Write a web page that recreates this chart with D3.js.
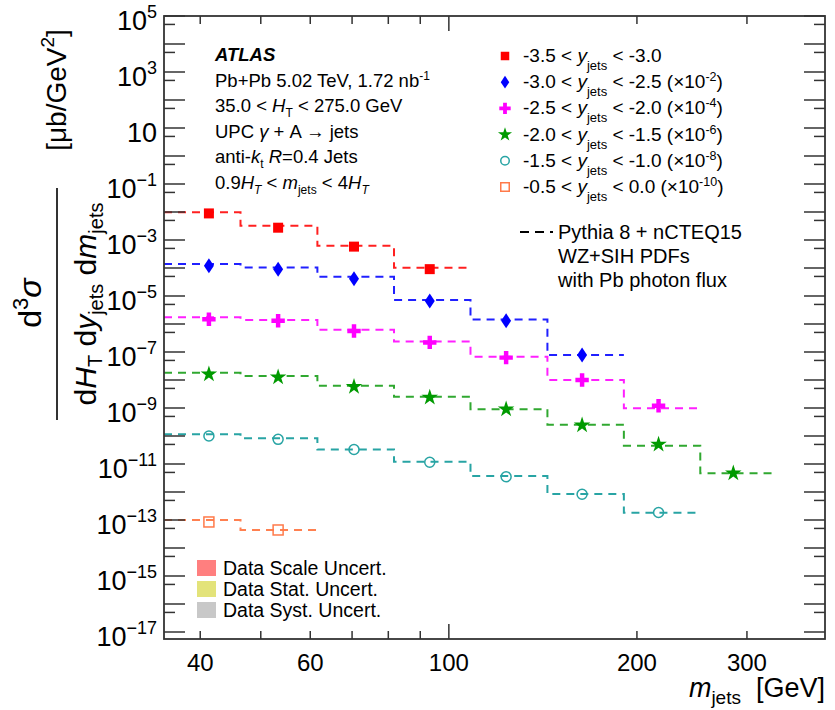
<!DOCTYPE html>
<meta charset="utf-8">
<style>
body { margin: 0; background: #fff; }
svg text { font-family: "Liberation Sans", Arial, Helvetica, sans-serif; fill: #000; }
</style>
<svg width="835" height="710"></svg>
<script src="https://d3js.org/d3.v7.min.js"></script>
<script>

// bins in m_jets [GeV]
var binEdges = [35, 46.4, 61.6, 81.7, 108.3, 143.8, 190.6, 252.6, 333];
var binCenters = [41.3, 53.3, 70.5, 93.2, 123.5, 163.4, 216.6, 285.3];

// rapidity slices
var yLow = ["-3.5", "-3.0", "-2.5", "-2.0", "-1.5", "-0.5"];
var yHigh = ["-3.0", "-2.5", "-2.0", "-1.5", "-1.0", "0.0"];
var scaleExp = ["", "-2", "-4", "-6", "-8", "-10"];

// data points (already multiplied by the scale factor)
var dataA = [8.9e-3, 2.75e-3, 5.8e-4, 9.1e-5];
var dataB = [1.2e-4, 9.1e-5, 4.1e-5, 6.6e-6, 1.3e-6, 7.8e-8];
var dataC = [1.48e-6, 1.3e-6, 5.6e-7, 2.2e-7, 6.3e-8, 1.0e-8, 1.2e-9];
var dataD = [1.6e-8, 1.26e-8, 5.8e-9, 2.4e-9, 9.1e-10, 2.45e-10, 5.0e-11, 4.7e-12];
var dataE = [1.0e-10, 7.6e-11, 3.3e-11, 1.15e-11, 3.5e-12, 8.3e-13, 1.86e-13];
var dataF = [8.5e-14, 4.4e-14];

// Pythia 8 + nCTEQ15 prediction
var theoA = [9.8e-3, 3.2e-3, 6.2e-4, 1.02e-4];
var theoB = [1.38e-4, 1.05e-4, 4.9e-5, 7.2e-6, 1.45e-6, 7.8e-8];
var theoC = [1.74e-6, 1.38e-6, 6.2e-7, 2.35e-7, 6.8e-8, 1.0e-8, 9.8e-10];
var theoD = [1.82e-8, 1.38e-8, 6.2e-9, 2.5e-9, 9.1e-10, 2.5e-10, 4.5e-11, 4.7e-12];
var theoE = [1.15e-10, 8.3e-11, 3.3e-11, 1.2e-11, 3.7e-12, 8.5e-13, 1.8e-13];
var theoF = [1.0e-13, 4.4e-14];

var xTickLabels = [40, 60, 100, 200, 300];

var allData = [dataA, dataB, dataC, dataD, dataE, dataF];
var allTheo = [theoA, theoB, theoC, theoD, theoE, theoF];
var markColor = ["#ff0000", "#0000ff", "#ff00ff", "#009a00", "#28a4a4", "#ff7a4a"];
var lineColor = ["#ff2020", "#2020ff", "#ff20ff", "#30a830", "#28a4a4", "#ff8050"];

var svg = d3.select("svg");
var fLeft = 164, fRight = 825, fTop = 16, fBottom = 639;

var x = d3.scaleLog().domain([35, 400]).range([fLeft, fRight]);
var y = d3.scaleLog().domain([Math.pow(10, -17.25), 1e5]).range([fBottom, fTop]);

// small helper for rich text (sub/superscripts, italics)
function rich(sel, parts) {
  var off = 0;
  parts.forEach(function(p) {
    var t = sel.append("tspan").text(p.t);
    var shift = p.shift || 0;
    if (shift !== off) t.attr("dy", shift - off);
    off = shift;
    if (p.i) t.attr("font-style", "italic");
    if (p.b) t.attr("font-weight", "bold");
    if (p.size) t.attr("font-size", p.size);
  });
  return sel;
}

// ---- marks ----
var g = svg.append("g");
svg.append("clipPath").attr("id", "frame")
  .append("rect").attr("x", fLeft).attr("y", fTop).attr("width", fRight - fLeft).attr("height", fBottom - fTop);

var line = d3.line().x(d => x(d[0])).y(d => y(d[1])).curve(d3.curveStepAfter);

allTheo.forEach(function(th, k) {
  var pts = th.map((v, i) => [binEdges[i], v]);
  pts.push([binEdges[th.length], th[th.length - 1]]);
  g.append("path")
    .attr("d", line(pts))
    .attr("clip-path", "url(#frame)")
    .attr("fill", "none")
    .attr("stroke", lineColor[k])
    .attr("stroke-width", 2)
    .attr("stroke-dasharray", "8,6");
});

var diamond = "M0,-7.5L5,0L0,7.5L-5,0Z";
function marker(sel, k, s) {
  s = s || 1;
  var c = markColor[k];
  if (k === 0) return sel.append("path").attr("d", d3.symbol(d3.symbolSquare, 100 * s * s)()).attr("fill", c);
  if (k === 1) return sel.append("path").attr("d", diamond).attr("transform", "scale(" + s + ")").attr("fill", c);
  if (k === 2) return sel.append("path").attr("d", d3.symbol(d3.symbolCross, 100 * s * s)()).attr("fill", c);
  if (k === 3) return sel.append("path").attr("d", d3.symbol(d3.symbolStar, 85 * s * s)()).attr("fill", c);
  if (k === 4) return sel.append("circle").attr("r", 5 * s).attr("fill", "none").attr("stroke", c).attr("stroke-width", 1.5);
  return sel.append("rect").attr("x", -5 * s).attr("y", -5 * s).attr("width", 10 * s).attr("height", 10 * s)
    .attr("fill", "none").attr("stroke", c).attr("stroke-width", 1.5);
}

allData.forEach(function(dat, k) {
  dat.forEach(function(v, i) {
    var m = g.append("g").attr("transform", "translate(" + x(binCenters[i]) + "," + y(v) + ")");
    marker(m, k);
  });
});

// ---- frame and ticks ----
var ax = svg.append("g").attr("stroke", "#333").attr("stroke-width", 1.5);
ax.append("rect").attr("x", fLeft).attr("y", fTop).attr("width", fRight - fLeft).attr("height", fBottom - fTop)
  .attr("fill", "none").attr("stroke", "#333").attr("stroke-width", 1.8);

var yMajor = d3.range(-17, 6).map(e => Math.pow(10, e));
var yMinor = d3.range(-18, 5).map(e => 5 * Math.pow(10, e)).filter(v => y(v) <= fBottom && y(v) >= fTop);
yMajor.forEach(function(v) {
  ax.append("line").attr("x1", fLeft).attr("x2", fLeft + 21).attr("y1", y(v)).attr("y2", y(v));
  ax.append("line").attr("x1", fRight).attr("x2", fRight - 21).attr("y1", y(v)).attr("y2", y(v));
});
yMinor.forEach(function(v) {
  ax.append("line").attr("x1", fLeft).attr("x2", fLeft + 11).attr("y1", y(v)).attr("y2", y(v));
  ax.append("line").attr("x1", fRight).attr("x2", fRight - 11).attr("y1", y(v)).attr("y2", y(v));
});

var xMinor = [40, 50, 60, 70, 80, 90, 200, 300];
xMinor.forEach(function(v) {
  ax.append("line").attr("x1", x(v)).attr("x2", x(v)).attr("y1", fBottom).attr("y2", fBottom - 8);
  ax.append("line").attr("x1", x(v)).attr("x2", x(v)).attr("y1", fTop).attr("y2", fTop + 8);
});
[100].forEach(function(v) {
  ax.append("line").attr("x1", x(v)).attr("x2", x(v)).attr("y1", fBottom).attr("y2", fBottom - 15);
  ax.append("line").attr("x1", x(v)).attr("x2", x(v)).attr("y1", fTop).attr("y2", fTop + 15);
});

// tick labels
xTickLabels.forEach(function(v) {
  svg.append("text").attr("x", x(v)).attr("y", 671).attr("text-anchor", "middle")
    .attr("font-size", 24).text(v);
});
d3.range(-17, 6, 2).forEach(function(e) {
  var t = svg.append("text").attr("x", 157).attr("y", y(Math.pow(10, e)) + 14)
    .attr("text-anchor", "end").attr("font-size", 27);
  if (e === 1) t.text("10");
  else rich(t, [{t: "10"}, {t: String(e).replace("-", "\u2212"), size: 18, shift: -12}]);
});

// axis titles
rich(svg.append("text").attr("x", fRight).attr("y", 697).attr("text-anchor", "end").attr("font-size", 27),
  [{t: "m", i: true}, {t: "jets", size: 19, shift: 7}, {t: "\u00a0\u00a0[GeV]"}]);

var yl = svg.append("g").attr("transform", "translate(57,303) rotate(-90)");
yl.append("line").attr("x1", -117).attr("x2", 115).attr("y1", 0).attr("y2", 0)
  .attr("stroke", "#333").attr("stroke-width", 2);
rich(yl.append("text").attr("x", 0).attr("y", -16).attr("text-anchor", "middle").attr("font-size", 32),
  [{t: "d"}, {t: "3", size: 22, shift: -13}, {t: "\u03c3", i: true}]);
rich(yl.append("text").attr("x", -1).attr("y", 39).attr("text-anchor", "middle").attr("font-size", 30),
  [{t: "d"}, {t: "H", i: true}, {t: "T", size: 20, shift: 6}, {t: " d"}, {t: "y", i: true},
   {t: "jets", size: 20, shift: 7}, {t: " d"}, {t: "m", i: true}, {t: "jets", size: 20, shift: 7}]);
rich(yl.append("text").attr("x", 213).attr("y", 9).attr("text-anchor", "middle").attr("font-size", 28),
  [{t: "[\u03bcb/GeV"}, {t: "2", size: 19, shift: -12}, {t: "]"}]);

// ---- top-left info ----
var fs = 18.5;
var info = [
  [{t: "ATLAS", i: true, b: true}],
  [{t: "Pb+Pb 5.02 TeV, 1.72 nb"}, {t: "-1", size: 12, shift: -7}],
  [{t: "35.0 < "}, {t: "H", i: true}, {t: "T", size: 12, shift: 5}, {t: " < 275.0 GeV"}],
  [{t: "UPC "}, {t: "\u03b3", i: true}, {t: " + A \u2192 jets"}],
  [{t: "anti-"}, {t: "k", i: true}, {t: "t", size: 12, shift: 5}, {t: " "}, {t: "R", i: true}, {t: "=0.4 Jets"}],
  [{t: "0.9"}, {t: "H", i: true}, {t: "T", i: true, size: 12, shift: 5}, {t: " < "}, {t: "m", i: true},
   {t: "jets", size: 12, shift: 5}, {t: " < 4"}, {t: "H", i: true}, {t: "T", i: true, size: 12, shift: 5}]
];
info.forEach(function(parts, i) {
  rich(svg.append("text").attr("x", 215).attr("y", 61 + i * 25.5).attr("font-size", fs), parts);
});

// ---- legend ----
yLow.forEach(function(lo, k) {
  var cy = 56 + k * 26.2;
  var m = svg.append("g").attr("transform", "translate(505," + cy + ")");
  marker(m, k, 0.85);
  var parts = [{t: lo + " < "}, {t: "y", i: true}, {t: "jets", size: 13, shift: 8}, {t: " < " + yHigh[k]}];
  if (scaleExp[k]) parts.push({t: " (\u00d710"}, {t: scaleExp[k], size: 12.5, shift: -7}, {t: ")"});
  rich(svg.append("text").attr("x", 523).attr("y", cy + 6).attr("font-size", 19), parts);
});

svg.append("line").attr("x1", 520).attr("x2", 553).attr("y1", 232).attr("y2", 232)
  .attr("stroke", "#000").attr("stroke-width", 2).attr("stroke-dasharray", "9,6");
["Pythia 8 + nCTEQ15", "WZ+SIH PDFs", "with Pb photon flux"].forEach(function(s, i) {
  svg.append("text").attr("x", 558).attr("y", 239 + i * 24).attr("font-size", 20).text(s);
});

var unc = [["Data Scale Uncert.", "#ff7f7f"], ["Data Stat. Uncert.", "#e3e37a"], ["Data Syst. Uncert.", "#c8c8c8"]];
unc.forEach(function(u, i) {
  var cy = 568 + i * 21;
  svg.append("rect").attr("x", 197).attr("y", cy - 8).attr("width", 19).attr("height", 16).attr("fill", u[1]);
  svg.append("text").attr("x", 223).attr("y", cy + 7).attr("font-size", 19.5).text(u[0]);
});

</script>
